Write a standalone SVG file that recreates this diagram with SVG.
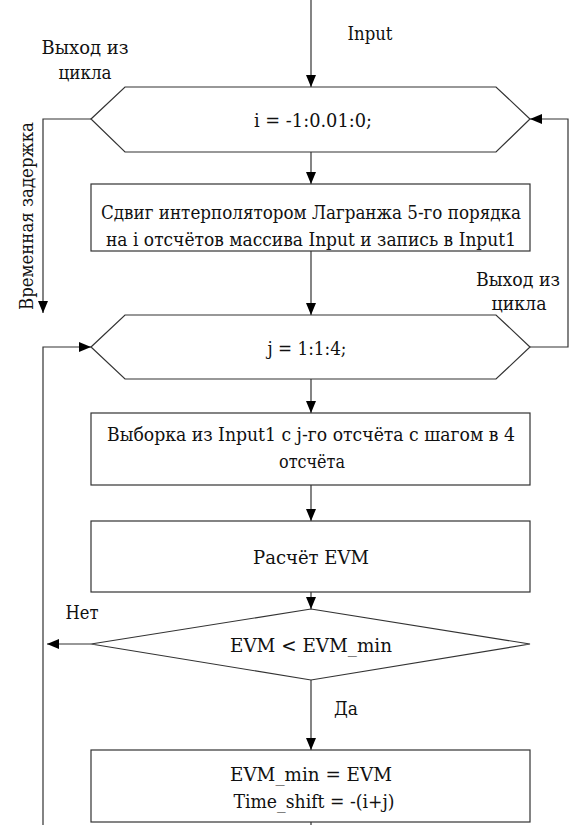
<svg xmlns="http://www.w3.org/2000/svg" width="571" height="825" viewBox="0 0 571 825">
<defs>
<marker id="arr" viewBox="0 0 12 10" refX="12" refY="5" markerWidth="12" markerHeight="10" markerUnits="userSpaceOnUse" orient="auto">
<path d="M0,0 L12,5 L0,10 z" fill="#000"/>
</marker>
</defs>
<style>
.n{fill:#fff;stroke:#333;stroke-width:1.2}
.c{fill:none;stroke:#333;stroke-width:1.2}
.a{marker-end:url(#arr)}
.m{text-anchor:middle}
text{font-family:'DejaVu Serif','Liberation Serif',serif;font-size:19px;fill:#111}
.s{font-size:18px}
</style>
<rect width="571" height="825" fill="#fff"/>
<g id="connectors">
<path class="c a" d="M311,0 V87"/>
<path class="c a" d="M311,152 V184"/>
<path class="c a" d="M311,251 V315"/>
<path class="c a" d="M311,379 V413"/>
<path class="c a" d="M311,485 V521"/>
<path class="c a" d="M311,592 V609"/>
<path class="c a" d="M311,680 V750"/>
<path class="c" d="M311,822 V825"/>
<path class="c a" d="M91,119 H43 V313"/>
<path class="c a" d="M530,347 H568 V119 H530"/>
<path class="c a" d="M43,825 V347 H91"/>
<path class="c a" d="M91,644 H47"/>
</g>
<g id="labels">
<text x="370" y="40" class="m" textLength="45" lengthAdjust="spacingAndGlyphs">Input</text>
<text x="85" y="54" class="m" textLength="87" lengthAdjust="spacingAndGlyphs">Выход из</text>
<text x="85" y="79" class="m" textLength="53" lengthAdjust="spacingAndGlyphs">цикла</text>
<text x="518" y="286" class="m" textLength="84" lengthAdjust="spacingAndGlyphs">Выход из</text>
<text x="519" y="310" class="m" textLength="55" lengthAdjust="spacingAndGlyphs">цикла</text>
<text transform="translate(33,216) rotate(-90)" class="m" textLength="188" lengthAdjust="spacingAndGlyphs">Временная задержка</text>
<text x="82" y="619" class="m" textLength="33" lengthAdjust="spacingAndGlyphs">Нет</text>
<text x="346" y="715" class="m" textLength="24" lengthAdjust="spacingAndGlyphs">Да</text>
</g>
<g id="loop_i">
<polygon class="n" points="91,119 125,87 496,87 530,119 496,152 125,152"/>
<text x="313" y="127" class="m" textLength="118" lengthAdjust="spacingAndGlyphs">i = -1:0.01:0;</text>
</g>
<g id="shift">
<rect class="n" x="91" y="184" width="439" height="67"/>
<text x="311" y="219" class="m s" textLength="420" lengthAdjust="spacingAndGlyphs">Сдвиг интерполятором Лагранжа 5-го порядка</text>
<text x="311" y="246" class="m s" textLength="410" lengthAdjust="spacingAndGlyphs">на i отсчётов массива Input и запись в Input1</text>
</g>
<g id="loop_j">
<polygon class="n" points="91,347 125,315 496,315 530,347 496,379 125,379"/>
<text x="307" y="355" class="m" textLength="79" lengthAdjust="spacingAndGlyphs">j = 1:1:4;</text>
</g>
<g id="sample">
<rect class="n" x="91" y="413" width="439" height="72"/>
<text x="311" y="441" class="m s" textLength="408" lengthAdjust="spacingAndGlyphs">Выборка из Input1 с j-го  отсчёта с шагом в 4</text>
<text x="312" y="468" class="m" textLength="66" lengthAdjust="spacingAndGlyphs">отсчёта</text>
</g>
<g id="evm">
<rect class="n" x="91" y="521" width="439" height="71"/>
<text x="311" y="564" class="m" textLength="116" lengthAdjust="spacingAndGlyphs">Расчёт EVM</text>
</g>
<g id="cond">
<polygon class="n" points="311,609 530,644 311,680 91,644"/>
<text x="311" y="652" class="m" textLength="162" lengthAdjust="spacingAndGlyphs">EVM &lt; EVM_min</text>
</g>
<g id="update">
<rect class="n" x="91" y="750" width="439" height="72"/>
<text x="311" y="781" class="m" textLength="162" lengthAdjust="spacingAndGlyphs">EVM_min = EVM</text>
<text x="314" y="808" class="m" textLength="161" lengthAdjust="spacingAndGlyphs">Time_shift = -(i+j)</text>
</g>
</svg>
